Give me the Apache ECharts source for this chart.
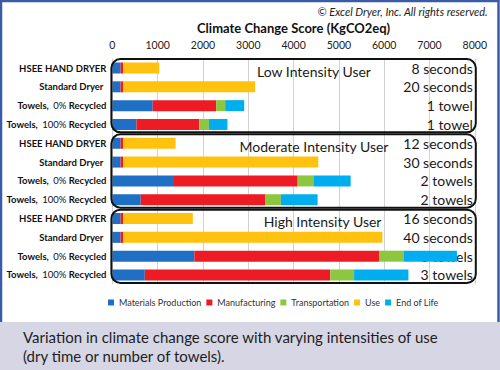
<!DOCTYPE html>
<html>
<head>
<meta charset="utf-8">
<script src="https://cdn.jsdelivr.net/npm/echarts@6/dist/echarts.min.js"></script>
<style>
  html, body { margin: 0; padding: 0; background: #fff; }
  #chart { width: 500px; height: 370px; }
</style>
</head>
<body>
<div id="chart"></div>
<script>
// ---- data ----
const groupTitles = ['Low Intensity User', 'Moderate Intensity User', 'High Intensity User'];
const rowCategories = [
  'HSEE HAND DRYER', 'Standard Dryer', 'Towels, 0% Recycled', 'Towels, 100% Recycled',
  'HSEE HAND DRYER', 'Standard Dryer', 'Towels, 0% Recycled', 'Towels, 100% Recycled',
  'HSEE HAND DRYER', 'Standard Dryer', 'Towels, 0% Recycled', 'Towels, 100% Recycled'
];
const usageLabels = [
  '8 seconds', '20 seconds', '1 towel', '1 towel',
  '12 seconds', '30 seconds', '2 towels', '2 towels',
  '16 seconds', '40 seconds', '3 towels', '3 towels'
];
const seriesNames = ['Materials Production', 'Manufacturing', 'Transportation', 'Use', 'End of Life'];
const materials      = [180, 180, 890, 530,   180, 180, 1360, 625,   180, 180, 1810, 715];
const manufacturing  = [55, 55, 1400, 1390,   55, 55, 2730, 2745,    55, 55, 4075, 4095];
const transportation = [0, 0, 200, 210,       0, 0, 360, 350,        0, 0, 540, 525];
const useValues      = [800, 2915, 0, 0,      1160, 4310, 0, 0,      1540, 5725, 0, 0];
const endOfLife      = [0, 0, 420, 410,       0, 0, 810, 810,        0, 0, 1180, 1200];
const xTicks = { min: 0, max: 8000, interval: 1000 };

// ---- styling ----
const colors = ['#1f6fc5', '#ed1c24', '#8dc63f', '#ffc20e', '#00aeef'];
const FONT = 'Lato, "Open Sans", sans-serif';
const seriesData = [materials, manufacturing, transportation, useValues, endOfLife];

const chart = echarts.init(document.getElementById('chart'), null, { renderer: 'svg' });

function leftLabel(v) {
  const m = v.match(/^(Towels,)\s*(\d+%)\s*(Recycled)$/);
  if (m) return '{b|' + m[1] + '}{sp| }{n|' + m[2] + '}{b| ' + m[3] + '}';
  if (v === 'Standard Dryer') return '{s|' + v + '}';
  return '{b|' + v + '}';
}

const option = {
  animation: false,
  backgroundColor: '#ffffff',
  textStyle: { fontFamily: FONT },
  title: {
    text: '© Excel Dryer, Inc. All rights reserved.',
    right: 7, top: 1,
    textStyle: { fontFamily: FONT, fontSize: 11, fontStyle: 'italic', fontWeight: 'normal', color: '#222' }
  },
  legend: {
    data: seriesNames,
    left: 103, top: 293,
    itemWidth: 6, itemHeight: 6, itemGap: 5,
    icon: 'rect',
    textStyle: { fontFamily: FONT, fontSize: 9, color: '#333' }
  },
  grid: { left: 112.4, right: 25.2, top: 58.6, bottom: 85.6, containLabel: false },
  xAxis: {
    type: 'value', position: 'top',
    min: xTicks.min, max: xTicks.max, interval: xTicks.interval,
    name: 'Climate Change Score (KgCO2eq)',
    nameLocation: 'middle', nameGap: 20,
    nameTextStyle: { fontFamily: FONT, fontSize: 13, fontWeight: 'bold', color: '#111' },
    axisLine: { show: false }, axisTick: { show: false },
    axisLabel: { fontFamily: FONT, fontSize: 10.5, color: '#222', margin: 8,
                 formatter: function (v) { return String(v); } },
    splitLine: { lineStyle: { color: '#d2d2d2', width: 1 } }
  },
  yAxis: [
    {
      type: 'category', inverse: true, data: rowCategories,
      axisLine: { show: false }, axisTick: { show: false },
      axisLabel: {
        margin: 6, formatter: leftLabel,
        rich: {
          b: { fontFamily: FONT, fontSize: 9.5, fontWeight: 'bold', color: '#111' },
          n: { fontFamily: FONT, fontSize: 9.5, fontWeight: 'normal', color: '#111' },
          sp: { fontFamily: FONT, fontSize: 9.5, padding: [0, 2, 0, 0] },
          s: { fontFamily: FONT, fontSize: 9.5, fontWeight: 'bold', color: '#111', padding: [0, 3, 0, 0] }
        }
      }
    },
    {
      type: 'category', inverse: true, position: 'right', data: usageLabels,
      axisLine: { show: false }, axisTick: { show: false },
      axisLabel: {
        inside: true, margin: 2,
        fontFamily: FONT, fontSize: 14, color: '#1a1a1a'
      }
    }
  ],
  series: seriesNames.map(function (name, k) {
    return {
      name: name, type: 'bar', stack: 'total', barWidth: 11,
      yAxisIndex: 0,
      itemStyle: { color: colors[k] },
      data: seriesData[k]
    };
  }),
  color: colors,
  graphic: [
    { type: 'rect', z: -10, silent: true,
      shape: { x: 1, y: 1, width: 497.5, height: 330 },
      style: { fill: 'none', stroke: '#3a5ba6', lineWidth: 2.5 } },
    { type: 'rect', z: 100, silent: true,
      shape: { x: 0, y: 322, width: 500, height: 48 },
      style: { fill: '#d6d6e4' } },
    { type: 'text', z: 101, left: 23, top: 327,
      style: { text: 'Variation in climate change score with varying intensities of use\n(dry time or number of towels).',
               fontFamily: FONT, fontSize: 15, lineHeight: 19, fill: '#1e1e1e' } }
  ]
};
chart.setOption(option);

// group boxes and titles, positioned through the axes
const titleCenters = [4450, 4450, 4640];
const a = chart.convertToPixel({ gridIndex: 0 }, [xTicks.min, 0]);
const b = chart.convertToPixel({ gridIndex: 0 }, [xTicks.max, 1]);
const band = b[1] - a[1];
const extra = [];
groupTitles.forEach(function (t, g) {
  const first = chart.convertToPixel({ gridIndex: 0 }, [xTicks.min, g * 4]);
  const last = chart.convertToPixel({ gridIndex: 0 }, [xTicks.min, g * 4 + 3]);
  const top = first[1] - band / 2 + 0.5;
  const bottom = last[1] + band / 2 - 1.5;
  extra.push({ type: 'rect', z: 50, silent: true,
    shape: { x: a[0] - 1, y: top, width: b[0] - a[0] + 2, height: bottom - top, r: 9 },
    style: { fill: 'none', stroke: '#111', lineWidth: 2 } });
  const tc = chart.convertToPixel({ gridIndex: 0 }, [titleCenters[g], g * 4]);
  extra.push({ type: 'text', z: 60, x: tc[0], y: tc[1] + 3,
    style: { text: t, fontFamily: FONT, fontSize: 14, fill: '#1a1a1a', align: 'center', verticalAlign: 'middle' } });
});
chart.setOption({ graphic: option.graphic.concat(extra) });
</script>
</body>
</html>
